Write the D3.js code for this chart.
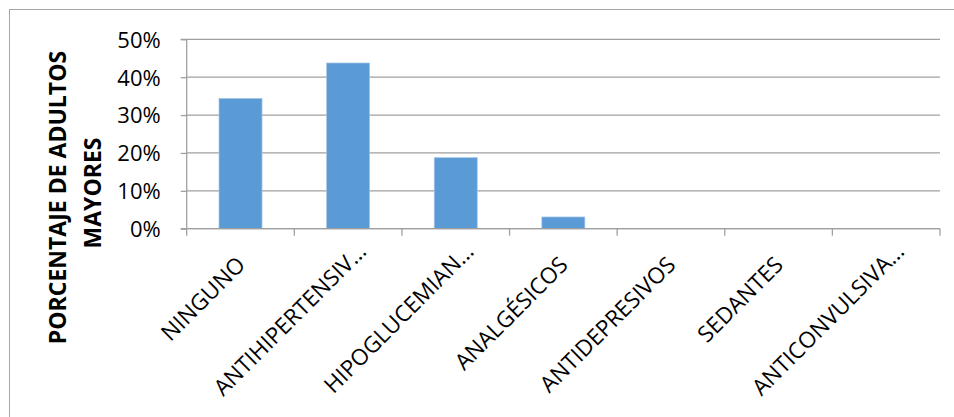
<!DOCTYPE html>
<html>
<head>
<meta charset="utf-8">
<script src="https://cdn.jsdelivr.net/npm/d3@7"></script>
<style>
  html, body { margin: 0; padding: 0; background: #fff; }
  svg { display: block; }
  text { font-family: "Open Sans", Lato, sans-serif; fill: #000; }
</style>
</head>
<body>
<svg id="chart" width="954" height="417"></svg>
<script>
const categories = ["NINGUNO", "ANTIHIPERTENSIV…", "HIPOGLUCEMIAN…", "ANALGÉSICOS", "ANTIDEPRESIVOS", "SEDANTES", "ANTICONVULSIVA…"];
const values = [0.344, 0.4375, 0.1875, 0.031, 0, 0, 0];
const yTicks = [0, 0.1, 0.2, 0.3, 0.4, 0.5];
const yTitleLines = ["PORCENTAJE DE ADULTOS", "MAYORES"];

const svg = d3.select("#chart");

// outer chart border (extends beyond the visible area at right/bottom)
svg.append("rect")
  .attr("x", 9.5).attr("y", 9.5)
  .attr("width", 1000).attr("height", 500)
  .attr("fill", "#fff").attr("stroke", "#a6a6a6").attr("stroke-width", 1);

const plot = { left: 186.7, right: 940, top: 39.3, bottom: 228.7 };

const x = d3.scaleBand().domain(categories).range([plot.left, plot.right]).paddingInner(0.6).paddingOuter(0.3);
const y = d3.scaleLinear().domain([0, 0.5]).range([plot.bottom, plot.top]);

// gridlines
svg.append("g").selectAll("line").data(yTicks).join("line")
  .attr("x1", plot.left).attr("x2", plot.right)
  .attr("y1", d => y(d)).attr("y2", d => y(d))
  .attr("stroke", "#a0a0a0").attr("stroke-width", 1.3);

// y axis
const yAxis = d3.axisLeft(y).tickValues(yTicks).tickFormat(d3.format(".0%")).tickSize(6).tickPadding(20);
const gy = svg.append("g").attr("transform", `translate(${plot.left},0)`).call(yAxis);
gy.select(".domain").attr("stroke", "#a0a0a0").attr("stroke-width", 1.3).attr("d", `M-6,${plot.bottom}H0V${plot.top}H-6`);
gy.selectAll(".tick line").attr("stroke", "#a0a0a0").attr("stroke-width", 1.3);
gy.selectAll(".tick text").style("font-family", "'Open Sans', Lato, sans-serif").style("font-size", "22px").attr("fill", "#000").attr("dy", "0.36em");

// bars
svg.append("g").selectAll("rect").data(categories).join("rect")
  .attr("x", d => x(d))
  .attr("width", x.bandwidth())
  .attr("y", (d, i) => y(values[i]))
  .attr("height", (d, i) => y(0) - y(values[i]))
  .attr("fill", "#5b9bd5")
  .attr("stroke", "#a9c8e8").attr("stroke-width", 0.7);

// x axis line + boundary ticks
const bounds = categories.map(c => x(c) - x.bandwidth() * 0.75).concat([plot.right]);
const gx = svg.append("g");
gx.append("line").attr("x1", plot.left).attr("x2", plot.right)
  .attr("y1", plot.bottom).attr("y2", plot.bottom)
  .attr("stroke", "#a0a0a0").attr("stroke-width", 1.3);
gx.selectAll("line.tk").data(bounds).join("line").attr("class", "tk")
  .attr("x1", d => d).attr("x2", d => d)
  .attr("y1", plot.bottom).attr("y2", plot.bottom + 7)
  .attr("stroke", "#a0a0a0").attr("stroke-width", 1.3);

// x labels rotated -45 (truncated labels extend a bit further past the tick, as in the original)
gx.selectAll("text").data(categories).join("text")
  .attr("transform", d => `translate(${x(d) + x.bandwidth() / 2 + 6},${plot.bottom + 37.5}) rotate(-45)`)
  .attr("text-anchor", "end")
  .attr("dx", d => d.endsWith("…") ? 19 : 0)
  .style("font-size", "22.5px")
  .text(d => d);

// y title
const yt = svg.append("text")
  .attr("transform", `translate(0,196) rotate(-90)`)
  .attr("text-anchor", "middle")
  .style("font-size", "23px").style("font-weight", "bold");
yt.selectAll("tspan").data(yTitleLines).join("tspan")
  .attr("x", (d, i) => i === 0 ? -1.5 : 3)
  .attr("y", (d, i) => i === 0 ? 65.5 : 100.5)
  .text(d => d);
</script>
</body>
</html>
